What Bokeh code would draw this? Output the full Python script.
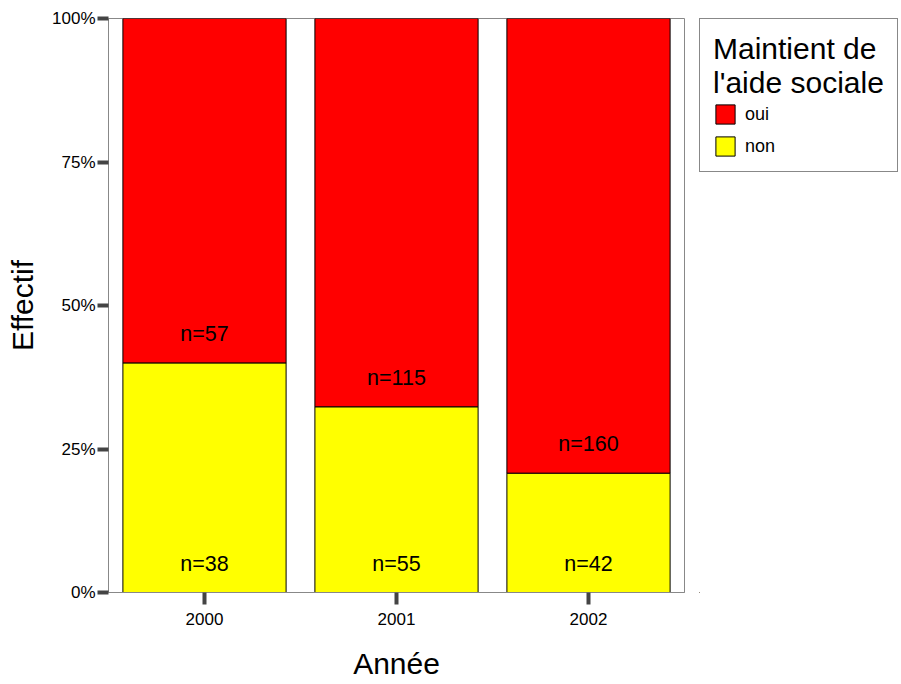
from bokeh.plotting import figure
from bokeh.layouts import row
from bokeh.models import ColumnDataSource, Legend, LegendItem, FixedTicker, NumeralTickFormatter, Range1d
from bokeh.embed import file_html
from bokeh.resources import INLINE

years = ["2000", "2001", "2002"]
oui = [57, 115, 160]
non = [38, 55, 42]
y_ticks = [0, 0.25, 0.5, 0.75, 1.0]
series_names = ["oui", "non"]
series_colors = ["#ff0000", "#ffff00"]
legend_title = "Maintient de\nl'aide sociale"

tot = [a + b for a, b in zip(oui, non)]
p_non = [b / t for b, t in zip(non, tot)]
p_oui = [a / t for a, t in zip(oui, tot)]

src = ColumnDataSource(dict(
    year=years, non=p_non, oui=p_oui,
    lab_non=["n=%d" % v for v in non],
    lab_oui=["n=%d" % v for v in oui],
    zero=[0.0] * len(years),
))

FONT = "Liberation Sans"

p = figure(x_range=years, y_range=Range1d(0, 1), width=699, height=684,
           output_backend="svg", toolbar_location=None,
           min_border_left=108, min_border_top=18, min_border_bottom=92, min_border_right=15)

rs = p.vbar_stack(["non", "oui"], x="year", width=0.85, source=src,
                  fill_color=[series_colors[1], series_colors[0]], line_color="black", line_width=1)

p.text(x="year", y="zero", text="lab_non", source=src, text_align="center",
       text_baseline="middle", y_offset=-29, text_font_size="21.5px",
       text_font={"value": FONT}, text_color="black")
p.text(x="year", y="non", text="lab_oui", source=src, text_align="center",
       text_baseline="middle", y_offset=-29, text_font_size="21.5px",
       text_font={"value": FONT}, text_color="black")

p.xgrid.visible = False
p.ygrid.visible = False
p.outline_line_color = "#888888"
p.background_fill_color = "white"
p.border_fill_color = "white"

p.yaxis.ticker = FixedTicker(ticks=y_ticks)
p.yaxis.formatter = NumeralTickFormatter(format="0%")
p.yaxis.minor_tick_line_color = None

for ax in (p.xaxis[0], p.yaxis[0]):
    ax.axis_line_color = "#888888"
    ax.major_tick_line_color = "#444444"
    ax.major_tick_line_width = 4
    ax.major_tick_in = 0
    ax.major_label_text_font = FONT
    ax.major_label_text_font_size = "17px"
    ax.major_label_text_color = "black"
    ax.axis_label_text_font = FONT
    ax.axis_label_text_font_size = "30px"
    ax.axis_label_text_font_style = "normal"
    ax.axis_label_text_color = "black"

p.yaxis.major_tick_out = 11
p.yaxis.major_label_standoff = 2
p.yaxis.axis_label = "Effectif"
p.yaxis.axis_label_standoff = 10
p.xaxis.major_tick_out = 12
p.xaxis.major_label_standoff = 8
p.xaxis.axis_label = "Année"
p.xaxis.axis_label_standoff = 19

# legend panel
lf = figure(width=202, height=684, x_range=Range1d(0, 1), y_range=Range1d(0, 1),
            output_backend="svg", toolbar_location=None,
            min_border_left=0, min_border_right=0, min_border_top=16, min_border_bottom=0)
lf.axis.visible = False
lf.xgrid.visible = False
lf.ygrid.visible = False
lf.outline_line_color = None
dummy = ColumnDataSource(dict(x=[-10.0], top=[-10.0], bottom=[-11.0]))
lr = [lf.vbar(x="x", top="top", bottom="bottom", width=0.5, source=dummy,
              fill_color=c, line_color="black")
      for c in series_colors]

legend = Legend(items=[LegendItem(label=n, renderers=[r]) for n, r in zip(series_names, lr)],
                location="top_left", title=legend_title,
                title_text_font=FONT, title_text_font_size="30px", title_text_font_style="normal",
                title_text_color="black",
                label_text_font=FONT, label_text_font_size="18px", label_text_color="black",
                glyph_width=24, glyph_height=24, label_height=24, spacing=8,
                label_standoff=8, padding=13, margin=0, title_standoff=2,
                border_line_color="#888888", border_line_width=1, border_line_alpha=1,
                background_fill_alpha=1)
lf.add_layout(legend)

layout = row(p, lf, spacing=0)
open("out.html", "w").write(file_html(layout, INLINE))
